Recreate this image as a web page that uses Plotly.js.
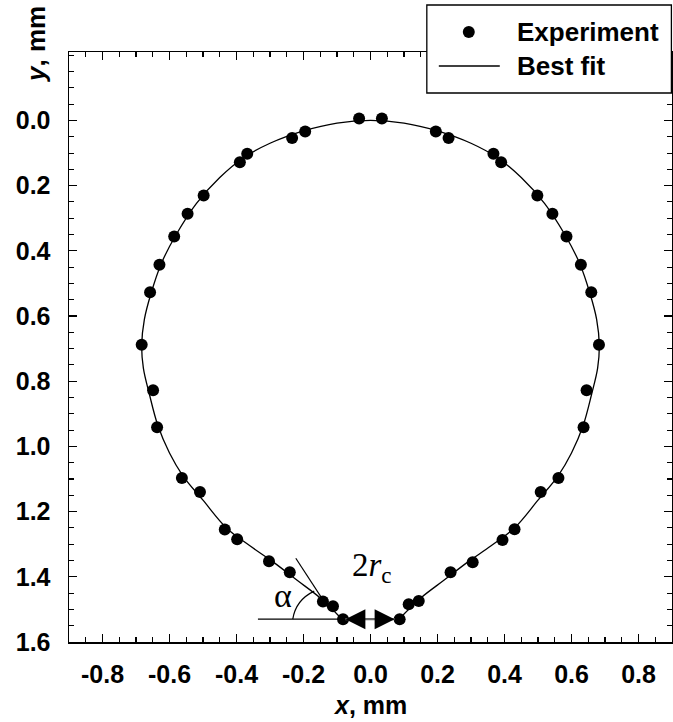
<!DOCTYPE html>
<html>
<head>
<meta charset="utf-8">
<script src="https://cdn.plot.ly/plotly-3.0.1.min.js"></script>
<style>
  html, body { margin: 0; padding: 0; background: #ffffff; }
  #chart { width: 673px; height: 722px; }
</style>
</head>
<body>
<div id="chart"></div>
<script>
// Measured drop profile (mm); y grows downward from the apex
const expX = [-0.034, -0.195, -0.234, -0.368, -0.390, -0.498, -0.546, -0.586, -0.630, -0.658, -0.683,
              -0.649, -0.637, -0.563, -0.509, -0.435, -0.398, -0.303, -0.241, -0.142, -0.112, -0.082,
               0.034,  0.195,  0.233,  0.367,  0.390,  0.498,  0.543,  0.585,  0.628,  0.659,  0.682,
               0.645,  0.636,  0.561,  0.508,  0.430,  0.394,  0.305,  0.239,  0.144,  0.114,  0.087];
const expY = [-0.006, 0.034, 0.054, 0.102, 0.128, 0.230, 0.286, 0.356, 0.443, 0.527, 0.688,
               0.828, 0.941, 1.097, 1.140, 1.255, 1.285, 1.352, 1.386, 1.476, 1.490, 1.530,
              -0.006, 0.034, 0.054, 0.102, 0.128, 0.230, 0.286, 0.356, 0.443, 0.527, 0.688,
               0.828, 0.941, 1.097, 1.140, 1.254, 1.287, 1.355, 1.386, 1.474, 1.484, 1.530];

// Best-fit profile, left contact point -> apex -> right contact point
const fitX = [-0.085, -0.150, -0.220, -0.290, -0.360, -0.430, -0.500, -0.560, -0.600, -0.635, -0.660, -0.678,
              -0.683, -0.675, -0.655, -0.625, -0.580, -0.520, -0.450, -0.380, -0.300, -0.200, -0.100,
               0.000,
               0.100,  0.200,  0.300,  0.380,  0.450,  0.520,  0.580,  0.625,  0.655,  0.675,  0.683,
               0.678,  0.660,  0.635,  0.600,  0.560,  0.500,  0.430,  0.360,  0.290,  0.220,  0.150,  0.085];
const fitY = [1.530, 1.465, 1.410, 1.355, 1.305, 1.250, 1.165, 1.090, 1.020, 0.935, 0.840, 0.760,
              0.690, 0.610, 0.530, 0.440, 0.350, 0.255, 0.175, 0.115, 0.070, 0.032, 0.008,
              0.000,
              0.008, 0.032, 0.070, 0.115, 0.175, 0.255, 0.350, 0.440, 0.530, 0.610, 0.690,
              0.760, 0.840, 0.935, 1.020, 1.090, 1.165, 1.250, 1.305, 1.355, 1.410, 1.465, 1.530];

// Tick positions and labels
const xTicks = [-0.8, -0.6, -0.4, -0.2, 0.0, 0.2, 0.4, 0.6, 0.8];
const xTickLabels = ['-0.8', '-0.6', '-0.4', '-0.2', '0.0', '0.2', '0.4', '0.6', '0.8'];
const yTicks = [0.0, 0.2, 0.4, 0.6, 0.8, 1.0, 1.2, 1.4, 1.6];
const yTickLabels = ['0.0', '0.2', '0.4', '0.6', '0.8', '1.0', '1.2', '1.4', '1.6'];
const legendNames = ['Experiment', 'Best fit'];

// Contact-angle construction near the left contact point (mm)
const baseY = 1.530;
const baseLineX = [-0.336, -0.083];
const tangentX = [-0.223, -0.122];
const tangentY = [1.343, 1.502];
const arcStart = [-0.232, 1.530];
const arcCtrl  = [-0.223, 1.471];
const arcEnd   = [-0.168, 1.444];
const gapX = [-0.075, 0.072];     // tips of the contact-diameter arrow
const gapY = [baseY, baseY];

const sans = 'Liberation Sans, Arial, sans-serif';
const serif = 'Liberation Serif, Times New Roman, serif';

const traces = [
  {
    x: fitX, y: fitY, type: 'scatter', mode: 'lines', name: legendNames[1],
    line: { color: '#000', width: 1.3, shape: 'spline', smoothing: 1 },
    hoverinfo: 'skip', showlegend: false
  },
  {
    x: expX, y: expY, type: 'scatter', mode: 'markers', name: legendNames[0],
    marker: { color: '#000', size: 12 }, showlegend: false
  },
  // double-headed arrow spanning the contact diameter 2r_c
  {
    x: gapX, y: gapY, type: 'scatter', mode: 'lines+markers', name: '2rc',
    line: { color: '#666', width: 2.2 },
    marker: { symbol: ['arrow-left', 'arrow-right'], size: 20, color: '#000', line: { width: 0 } },
    hoverinfo: 'skip', showlegend: false
  }
];

const axisCommon = {
  showgrid: false, zeroline: false, showline: true, linecolor: '#000', linewidth: 1.5,
  mirror: 'allticks', ticks: 'inside', ticklen: 8, tickwidth: 1.3, tickcolor: '#000',
  tickfont: { family: sans, size: 25, color: '#000', weight: 'bold' },
  minor: { dtick: 0.05, ticks: 'inside', ticklen: 5, tickwidth: 1.1, tickcolor: '#000' },
  tickmode: 'array'
};

const layout = {
  width: 673, height: 722,
  margin: { l: 69, r: 1, t: 52, b: 80 },
  paper_bgcolor: '#fff', plot_bgcolor: '#fff',
  font: { family: sans, color: '#000' },
  showlegend: false,
  xaxis: Object.assign({}, axisCommon, {
    range: [-0.9, 0.9], tickvals: xTicks, ticktext: xTickLabels, ticklabelstandoff: 9
  }),
  yaxis: Object.assign({}, axisCommon, {
    range: [1.6, -0.21], tickvals: yTicks, ticktext: yTickLabels, ticklabelstandoff: 12
  }),
  shapes: [
    // horizontal base line and tangent at the contact point
    { type: 'line', xref: 'x', yref: 'y', x0: baseLineX[0], x1: baseLineX[1], y0: baseY, y1: baseY,
      line: { color: '#000', width: 1.2 } },
    { type: 'line', xref: 'x', yref: 'y', x0: tangentX[0], x1: tangentX[1], y0: tangentY[0], y1: tangentY[1],
      line: { color: '#000', width: 1.2 } },
    // angle arc
    { type: 'path', xref: 'x', yref: 'y',
      path: 'M' + arcStart[0] + ',' + arcStart[1] + ' Q' + arcCtrl[0] + ',' + arcCtrl[1] + ' ' + arcEnd[0] + ',' + arcEnd[1],
      line: { color: '#000', width: 1.2 } },
    // legend box
    { type: 'rect', xref: 'paper', yref: 'paper', x0: 0.5934, x1: 0.999, y0: 0.9305, y1: 1.0797,
      fillcolor: '#fff', line: { color: '#000', width: 1.3 }, layer: 'above' },
    { type: 'line', xref: 'paper', yref: 'paper', x0: 0.6133, x1: 0.7144, y0: 0.9763, y1: 0.9763,
      line: { color: '#000', width: 1.3 }, layer: 'above' },
    { type: 'circle', xref: 'paper', yref: 'paper', xsizemode: 'pixel', ysizemode: 'pixel',
      xanchor: 0.663, yanchor: 1.0339, x0: -6, x1: 6, y0: -6, y1: 6,
      fillcolor: '#000', line: { color: '#000', width: 0 }, layer: 'above' }
  ],
  annotations: [
    { xref: 'paper', yref: 'paper', x: 0.7393, y: 1.0339, xanchor: 'left', yanchor: 'middle',
      text: legendNames[0], showarrow: false, font: { family: sans, size: 26, weight: 'bold' } },
    { xref: 'paper', yref: 'paper', x: 0.7393, y: 0.9763, xanchor: 'left', yanchor: 'middle',
      text: legendNames[1], showarrow: false, font: { family: sans, size: 26, weight: 'bold' } },
    // axis titles
    { xref: 'paper', yref: 'paper', x: 0.4989, y: -0.1068, xanchor: 'center', yanchor: 'middle',
      text: '<i>x</i>, mm', showarrow: false, font: { family: sans, size: 25, weight: 'bold' } },
    { xref: 'paper', yref: 'paper', x: -0.0547, y: 1.0119, xanchor: 'center', yanchor: 'middle',
      text: '<i>y</i>, mm', textangle: -90, showarrow: false, font: { family: sans, size: 26, weight: 'bold' } },
    // construction labels
    { xref: 'x', yref: 'y', x: -0.262, y: 1.458, text: 'α', showarrow: false,
      font: { family: serif, size: 34 } },
    { xref: 'x', yref: 'y', x: 0.004, y: 1.37, text: '2<i>r</i><sub>c</sub>', showarrow: false,
      font: { family: serif, size: 33 } }
  ]
};

Plotly.newPlot('chart', traces, layout, { displayModeBar: false, staticPlot: true });
</script>
</body>
</html>
